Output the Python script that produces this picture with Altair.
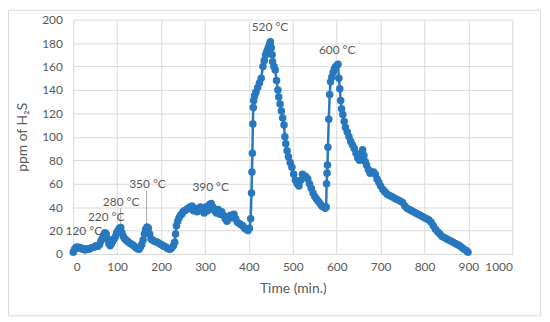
import altair as alt
import pandas as pd

# Data: (time in min., ppm of H2S)
time_min = [0,3,6,9,12,15,18,21,24,27,30,33,36,40,44,48,52,56,60,63,66,69,72,75,78,81,84,87,90,93,96,99,102,105,108,
            111,114,117,120,123,126,130,134,138,142,146,150,153,156,159,162,165,168,171,174,177,180,184,188,192,196,200,
            204,208,212,216,220,224,228,231,233,235,238,241,244,247,250,254,258,262,266,270,274,278,282,286,290,294,298,
            302,306,310,314,318,322,326,330,334,338,342,346,350,354,358,362,366,370,374,378,382,386,390,394,398,401,404,
            406,407,408,409,410,411,413,416,420,424,428,432,435,438,441,444,447,449,451,453,454,457,460,463,466,468,471,
            474,477,480,482,484,487,490,494,498,502,506,510,514,518,522,526,530,534,538,542,546,550,554,558,562,566,570,
            574,576,577,578,579,580,582,584,586,589,592,595,598,601,603,605,607,609,611,614,617,620,624,628,632,636,640,
            644,648,652,656,659,662,665,668,672,676,680,684,688,692,696,700,705,710,715,720,725,730,735,740,745,750,755,
            760,765,770,775,780,785,790,795,800,805,810,815,820,825,830,835,840,845,850,855,860,865,870,875,880,885,890,
            895,899]
ppm = [1.5,4,5.5,6,5,5.5,5,4,4.5,3.5,4,4.5,4,5,5.5,6,7,6.5,8,11,13,16,18,17,13,9,7,9,11,13,15,18,20,22,22.5,
       18,15,13,12,11,10,9,8,7,5.5,4.5,4,6,8,12,17,21,23,22,17,13,12,11,10.5,10,9,8,
       7,6.5,5.5,4.5,4,5,7,10,17,24,28,31,33,34,36,37,38,39,40,41,37,39,36,38,40,38,35,
       40,37,42,43,40,37,35,38,34,36,33,30,28,30,33,31,34,30,27,26,25,24,22,21,20,22,30,
       52,70,86,111,125,131,135,138,142,146,150,160,165,170,173,176,179,181,176,170,164,160,157,148,140,134,128,
       122,116,110,100,94,88,83,78,74,68,63,60,58,63,68,67,66,64,60,56,52,49,47,45,43,41,40,
       39,40,60,69,76,91,115,136,147,151,155,158,160,161,162,150,141,131,124,119,113,108,104,100,96,93,90,
       86,82,80,85,89,84,79,76,72,69,70,70,68,64,61,58,55,53,51,50,49,48,47,46,45,44,41,
       39,38,37,36,35,34,33,32,31,30,29,27,24,21,19,17,15,14,13,12,11,10,9,8,7,5.5,4,
       3,1.5]

label_text = ["120 °C", "220 °C", "280 °C", "350 °C", "390 °C", "520 °C", "600 °C"]
label_t = [24, 75, 109, 169, 313, 448, 601]
label_v = [19.4, 31.5, 44.7, 60, 56.8, 194, 174]

leader_t = [108, 167]
leader_top = [39, 54]
leader_bottom = [23, 24]

x_ticks = list(range(0, 1001, 100))
y_ticks = list(range(0, 201, 20))

df = pd.DataFrame({"t": time_min, "v": ppm})
labels = pd.DataFrame({"text": label_text, "t": label_t, "v": label_v})
leaders = pd.DataFrame({"t": leader_t, "v1": leader_top, "v2": leader_bottom})

BLUE = "#2878bf"
GRAY_TXT = "#595959"
GRID = "#d9d9d9"
FONT = "Lato"

xs = alt.Scale(domain=[0, 1000], nice=False)
ys = alt.Scale(domain=[0, 200], nice=False)

x_axis = alt.Axis(values=x_ticks, title="Time (min.)", grid=True, gridColor=GRID, domainColor=GRID,
                  ticks=False, labelPadding=8, titlePadding=9, format="d", labelOverlap=False,
                  tickCount=11)
y_axis = alt.Axis(values=y_ticks, title="ppm of H₂S", grid=True, gridColor=GRID, domain=False,
                  ticks=False, labelPadding=11, titlePadding=12, format="d", labelOverlap=False,
                  tickCount=11)


def X(field):
    return alt.X(field, type="quantitative", scale=xs, axis=x_axis)


def Y(field):
    return alt.Y(field, type="quantitative", scale=ys, axis=y_axis)


base = alt.Chart(df)

line = base.mark_line(color=BLUE, strokeWidth=2.5).encode(
    x=X("t"), y=Y("v"), order="t:Q",
)
points = base.mark_circle(color=BLUE, size=58, opacity=1).encode(
    x=X("t"), y=Y("v"),
)
leader_rules = alt.Chart(leaders).mark_rule(color="#a6a6a6", strokeWidth=1).encode(
    x=X("t"), y=Y("v1"), y2="v2:Q",
)
texts = alt.Chart(labels).mark_text(font=FONT, fontSize=12, color=GRAY_TXT, align="center",
                                    baseline="middle").encode(
    x=X("t"), y=Y("v"), text="text:N",
)
border = alt.Chart(pd.DataFrame({"a": [0]})).mark_rect(filled=False, stroke=GRID, strokeWidth=1).encode(
    x=alt.value(-65.5), x2=alt.value(472.5), y=alt.value(-9.5), y2=alt.value(299.5)
)

chart = alt.layer(border, leader_rules, line, points, texts).properties(
    width=444, height=237,
    autosize=alt.AutoSizeParams(type="none"),
    padding={"left": 66, "top": 10, "right": 30, "bottom": 64},
    background="white",
).configure_view(strokeWidth=0).configure_axis(
    labelFont=FONT, labelFontSize=12, labelColor=GRAY_TXT,
    titleFont=FONT, titleFontSize=14, titleColor=GRAY_TXT, titleFontWeight="normal",
)

chart.save("out.html", embed_options={"renderer": "svg", "actions": False})
